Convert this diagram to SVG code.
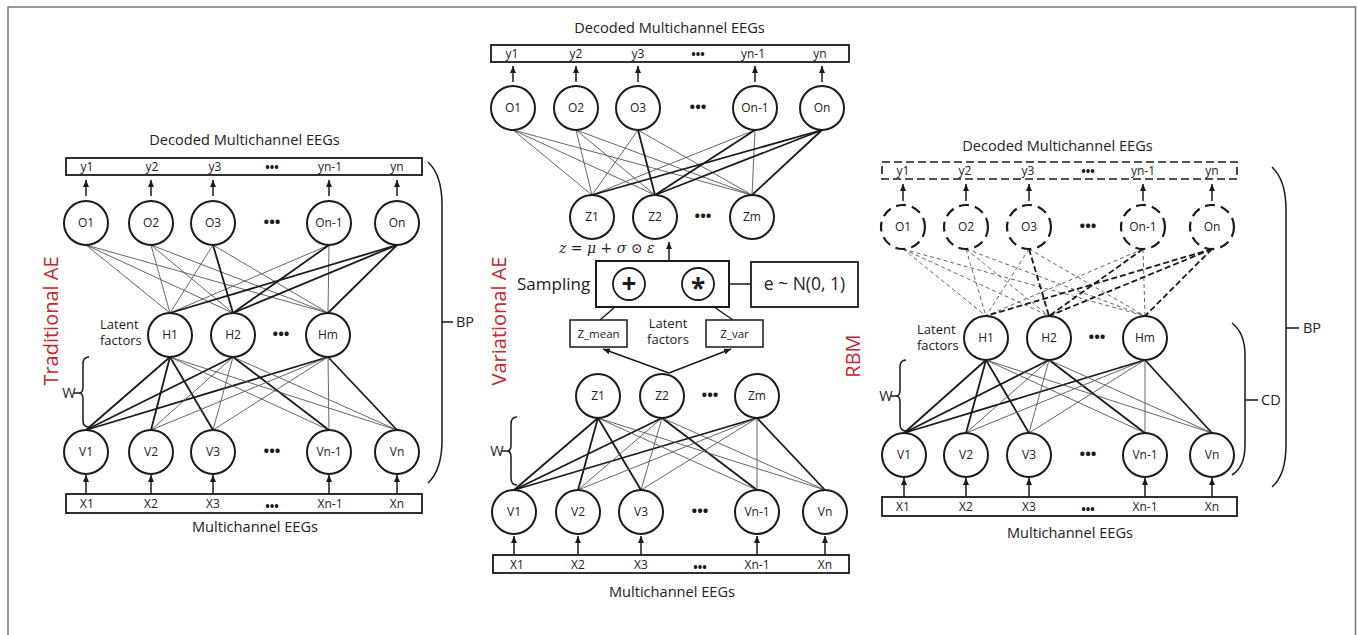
<svg xmlns="http://www.w3.org/2000/svg" width="1357" height="635" viewBox="0 0 1357 635">
<defs>
<marker id="ah" markerUnits="userSpaceOnUse" markerWidth="7" markerHeight="6" viewBox="0 0 7 6" refX="7" refY="3" orient="auto"><path d="M0,0 L7,3 L0,6 z" fill="#1a1a1a"/></marker>
<style>
text{font-family:"Open Sans","Noto Sans","Liberation Sans",sans-serif;fill:#222}
.node circle{fill:#fff;stroke:#1a1a1a;stroke-width:2}
.dnode circle{fill:#fff;stroke:#1a1a1a;stroke-width:2.2;stroke-dasharray:10 6}
.node text,.dnode text{font-size:12px;text-anchor:middle}
.box rect{fill:#fff;stroke:#1a1a1a;stroke-width:1.8}
.dbox rect{fill:#fff;stroke:#1a1a1a;stroke-width:1.6;stroke-dasharray:8 4}
.box text,.dbox text{font-size:12px;text-anchor:middle}
.dots{font-size:15px;font-weight:bold;text-anchor:middle;fill:#1a1a1a}
.title{font-size:14.6px;text-anchor:middle}
.red{font-size:20px;fill:#c4262e;text-anchor:middle}
.lat{font-size:13px}
.thin{stroke:#555;stroke-width:0.9}
.thick{stroke:#1a1a1a;stroke-width:1.8}
.dthin{stroke:#555;stroke-width:0.9;stroke-dasharray:4 3}
.dthick{stroke:#1a1a1a;stroke-width:1.8;stroke-dasharray:6 3}
.arr{stroke:#1a1a1a;stroke-width:1.5;fill:none;marker-end:url(#ah)}
.br{fill:none;stroke:#1a1a1a;stroke-width:1.5}
.side{font-size:14.5px}
</style>
</defs>
<rect width="1357" height="635" fill="#fff"/>
<path d="M8 640 V7 H1355.5 V640" fill="none" stroke="#777" stroke-width="1.5"/>

<g id="connectors">
<g class="thin">
<line x1="86" y1="245" x2="170" y2="313"/><line x1="86" y1="245" x2="233" y2="313"/><line x1="86" y1="245" x2="328" y2="313"/>
<line x1="151" y1="245" x2="170" y2="313"/><line x1="151" y1="245" x2="233" y2="313"/><line x1="151" y1="245" x2="328" y2="313"/>
<line x1="213" y1="245" x2="170" y2="313"/><line x1="213" y1="245" x2="328" y2="313"/>
<line x1="329" y1="245" x2="170" y2="313"/><line x1="329" y1="245" x2="328" y2="313"/>
</g>
<g class="thick">
<line x1="213" y1="245" x2="233" y2="313"/><line x1="329" y1="245" x2="233" y2="313"/>
<line x1="397" y1="245" x2="170" y2="313"/><line x1="397" y1="245" x2="233" y2="313"/><line x1="397" y1="245" x2="328" y2="313"/>
</g>
<g class="thick">
<line x1="170" y1="357" x2="86" y2="430"/><line x1="170" y1="357" x2="151" y2="430"/><line x1="170" y1="357" x2="213" y2="430"/>
<line x1="233" y1="357" x2="86" y2="430"/><line x1="233" y1="357" x2="329" y2="430"/>
<line x1="328" y1="357" x2="86" y2="430"/><line x1="328" y1="357" x2="397" y2="430"/>
</g>
<g class="thin">
<line x1="170" y1="357" x2="329" y2="430"/><line x1="170" y1="357" x2="397" y2="430"/>
<line x1="233" y1="357" x2="151" y2="430"/><line x1="233" y1="357" x2="213" y2="430"/><line x1="233" y1="357" x2="397" y2="430"/>
<line x1="328" y1="357" x2="151" y2="430"/><line x1="328" y1="357" x2="213" y2="430"/><line x1="328" y1="357" x2="329" y2="430"/>
</g>
<g class="thin">
<line x1="513" y1="130" x2="592" y2="195"/><line x1="513" y1="130" x2="655" y2="195"/><line x1="513" y1="130" x2="752" y2="195"/>
<line x1="576" y1="130" x2="592" y2="195"/><line x1="576" y1="130" x2="655" y2="195"/><line x1="576" y1="130" x2="752" y2="195"/>
<line x1="638" y1="130" x2="592" y2="195"/><line x1="638" y1="130" x2="752" y2="195"/>
<line x1="755" y1="130" x2="592" y2="195"/><line x1="755" y1="130" x2="752" y2="195"/>
</g>
<g class="thick">
<line x1="638" y1="130" x2="655" y2="195"/><line x1="755" y1="130" x2="655" y2="195"/>
<line x1="822" y1="130" x2="592" y2="195"/><line x1="822" y1="130" x2="655" y2="195"/><line x1="822" y1="130" x2="752" y2="195"/>
</g>
<g class="thick">
<line x1="598" y1="418" x2="514" y2="490"/><line x1="598" y1="418" x2="578" y2="490"/><line x1="598" y1="418" x2="641" y2="490"/>
<line x1="662" y1="418" x2="514" y2="490"/><line x1="662" y1="418" x2="757" y2="490"/>
<line x1="757" y1="418" x2="514" y2="490"/><line x1="757" y1="418" x2="825" y2="490"/>
</g>
<g class="thin">
<line x1="598" y1="418" x2="757" y2="490"/><line x1="598" y1="418" x2="825" y2="490"/>
<line x1="662" y1="418" x2="578" y2="490"/><line x1="662" y1="418" x2="641" y2="490"/><line x1="662" y1="418" x2="825" y2="490"/>
<line x1="757" y1="418" x2="578" y2="490"/><line x1="757" y1="418" x2="641" y2="490"/><line x1="757" y1="418" x2="757" y2="490"/>
</g>
<g class="dthin">
<line x1="903" y1="249" x2="986" y2="316"/><line x1="903" y1="249" x2="1049" y2="316"/><line x1="903" y1="249" x2="1145" y2="316"/>
<line x1="966" y1="249" x2="986" y2="316"/><line x1="966" y1="249" x2="1049" y2="316"/><line x1="966" y1="249" x2="1145" y2="316"/>
<line x1="1029" y1="249" x2="986" y2="316"/><line x1="1029" y1="249" x2="1145" y2="316"/>
<line x1="1143" y1="249" x2="986" y2="316"/><line x1="1143" y1="249" x2="1145" y2="316"/>
</g>
<g class="dthick">
<line x1="1029" y1="249" x2="1049" y2="316"/><line x1="1143" y1="249" x2="1049" y2="316"/>
<line x1="1212" y1="249" x2="986" y2="316"/><line x1="1212" y1="249" x2="1049" y2="316"/><line x1="1212" y1="249" x2="1145" y2="316"/>
</g>
<g class="thick">
<line x1="986" y1="360" x2="904" y2="433"/><line x1="986" y1="360" x2="966" y2="433"/><line x1="986" y1="360" x2="1029" y2="433"/>
<line x1="1049" y1="360" x2="904" y2="433"/><line x1="1049" y1="360" x2="1145" y2="433"/>
<line x1="1145" y1="360" x2="904" y2="433"/><line x1="1145" y1="360" x2="1212" y2="433"/>
</g>
<g class="thin">
<line x1="986" y1="360" x2="1145" y2="433"/><line x1="986" y1="360" x2="1212" y2="433"/>
<line x1="1049" y1="360" x2="966" y2="433"/><line x1="1049" y1="360" x2="1029" y2="433"/><line x1="1049" y1="360" x2="1212" y2="433"/>
<line x1="1145" y1="360" x2="966" y2="433"/><line x1="1145" y1="360" x2="1029" y2="433"/><line x1="1145" y1="360" x2="1145" y2="433"/>
</g>
<path class="arr" d="M86 196 V180"/><path class="arr" d="M151 196 V180"/><path class="arr" d="M213 196 V180"/><path class="arr" d="M329 196 V180"/><path class="arr" d="M397 196 V180"/>
<path class="arr" d="M86 494 V475"/><path class="arr" d="M151 494 V475"/><path class="arr" d="M213 494 V475"/><path class="arr" d="M329 494 V475"/><path class="arr" d="M397 494 V475"/>
<path class="arr" d="M513 82 V66"/><path class="arr" d="M576 82 V66"/><path class="arr" d="M638 82 V66"/><path class="arr" d="M755 82 V66"/><path class="arr" d="M822 82 V66"/>
<path class="arr" d="M514 555 V536"/><path class="arr" d="M578 555 V536"/><path class="arr" d="M641 555 V536"/><path class="arr" d="M757 555 V536"/><path class="arr" d="M825 555 V536"/>
<path class="arr" d="M669 261 V242"/>
<path class="arr" d="M682 284 H646"/>
<path class="arr" d="M751 284 H715"/>
<path class="arr" d="M600 320 L623 300"/>
<path class="arr" d="M733 320 L704 300"/>
<path class="arr" d="M669 373 L603 349"/>
<path class="arr" d="M669 373 L731 349"/>
<path class="arr" d="M903 201 V184"/><path class="arr" d="M966 201 V184"/><path class="arr" d="M1029 201 V184"/><path class="arr" d="M1143 201 V184"/><path class="arr" d="M1212 201 V184"/>
<path class="arr" d="M904 497 V478"/><path class="arr" d="M966 497 V478"/><path class="arr" d="M1029 497 V478"/><path class="arr" d="M1145 497 V478"/><path class="arr" d="M1212 497 V478"/>
</g>

<text class="title" x="244.5" y="145">Decoded Multichannel EEGs</text>
<g id="L-out" class="box"><rect x="66" y="158" width="356" height="17"/>
<text x="87" y="171">y1</text><text x="152" y="171">y2</text><text x="215" y="171">y3</text><text class="dots" x="272" y="172">•••</text><text x="330" y="171">yn-1</text><text x="397" y="171">yn</text></g>
<g id="L-O1" class="node"><circle cx="86" cy="223" r="22"/><text x="86" y="227">O1</text></g>
<g id="L-O2" class="node"><circle cx="151" cy="223" r="22"/><text x="151" y="227">O2</text></g>
<g id="L-O3" class="node"><circle cx="213" cy="223" r="22"/><text x="213" y="227">O3</text></g>
<text class="dots" x="272" y="227">•••</text>
<g id="L-On1" class="node"><circle cx="329" cy="223" r="22"/><text x="329" y="227">On-1</text></g>
<g id="L-On" class="node"><circle cx="397" cy="223" r="22"/><text x="397" y="227">On</text></g>
<text class="lat" x="100" y="329">Latent</text><text class="lat" x="100" y="345">factors</text>
<g id="L-H1" class="node"><circle cx="170" cy="335" r="22"/><text x="170" y="339">H1</text></g>
<g id="L-H2" class="node"><circle cx="233" cy="335" r="22"/><text x="233" y="339">H2</text></g>
<text class="dots" x="281" y="339">•••</text>
<g id="L-Hm" class="node"><circle cx="328" cy="335" r="22"/><text x="328" y="339">Hm</text></g>
<g id="L-V1" class="node"><circle cx="86" cy="452" r="22"/><text x="86" y="456">V1</text></g>
<g id="L-V2" class="node"><circle cx="151" cy="452" r="22"/><text x="151" y="456">V2</text></g>
<g id="L-V3" class="node"><circle cx="213" cy="452" r="22"/><text x="213" y="456">V3</text></g>
<text class="dots" x="272" y="456">•••</text>
<g id="L-Vn1" class="node"><circle cx="329" cy="452" r="22"/><text x="329" y="456">Vn-1</text></g>
<g id="L-Vn" class="node"><circle cx="397" cy="452" r="22"/><text x="397" y="456">Vn</text></g>
<g id="L-in" class="box"><rect x="66" y="494" width="356" height="19"/>
<text x="87" y="508">X1</text><text x="151" y="508">X2</text><text x="213" y="508">X3</text><text class="dots" x="272" y="511">•••</text><text x="330" y="508">Xn-1</text><text x="397" y="508">Xn</text></g>
<text class="title" x="255" y="532">Multichannel EEGs</text>
<text class="red" x="58" y="321" transform="rotate(-90 58 321)">Traditional AE</text>
<g id="L-W"><path class="br" d="M89 357 Q83 357 83 364 L83 387 Q83 393 79 393 Q83 393 83 399 L83 421 Q83 427 89 427 M74 393 H79"/><text class="side" x="69" y="398" text-anchor="middle">W</text></g>
<g id="L-BP"><path class="br" d="M428 162 Q442 175 442 205 L442 440 Q442 470 428 483 M442 322 H453"/><text class="side" x="456" y="327">BP</text></g>

<text class="title" x="669.5" y="33">Decoded Multichannel EEGs</text>
<g id="M-out" class="box"><rect x="491" y="45" width="358" height="17"/>
<text x="512" y="58">y1</text><text x="576" y="58">y2</text><text x="638" y="58">y3</text><text class="dots" x="698" y="59">•••</text><text x="753" y="58">yn-1</text><text x="820" y="58">yn</text></g>
<g id="M-O1" class="node"><circle cx="513" cy="108" r="22"/><text x="513" y="112">O1</text></g>
<g id="M-O2" class="node"><circle cx="576" cy="108" r="22"/><text x="576" y="112">O2</text></g>
<g id="M-O3" class="node"><circle cx="638" cy="108" r="22"/><text x="638" y="112">O3</text></g>
<text class="dots" x="698" y="112">•••</text>
<g id="M-On1" class="node"><circle cx="755" cy="108" r="22"/><text x="755" y="112">On-1</text></g>
<g id="M-On" class="node"><circle cx="822" cy="108" r="22"/><text x="822" y="112">On</text></g>
<g id="M-Zu1" class="node"><circle cx="592" cy="217" r="22"/><text x="592" y="221">Z1</text></g>
<g id="M-Zu2" class="node"><circle cx="655" cy="217" r="22"/><text x="655" y="221">Z2</text></g>
<text class="dots" x="703" y="221">•••</text>
<g id="M-Zum" class="node"><circle cx="752" cy="217" r="22"/><text x="752" y="221">Zm</text></g>
<text x="559" y="253" style="font-family:'DejaVu Serif','Liberation Serif',serif;font-style:italic;font-size:14px">z = μ + σ ⊙ ε</text>
<g id="M-sampling"><rect x="596" y="261" width="133" height="46" fill="#fff" stroke="#1a1a1a" stroke-width="2"/>
<circle cx="629" cy="284" r="16" fill="#fff" stroke="#1a1a1a" stroke-width="1.8"/><text x="629" y="293" text-anchor="middle" style="font-size:26px;font-weight:bold;fill:#1a1a1a">+</text>
<circle cx="698" cy="284" r="16" fill="#fff" stroke="#1a1a1a" stroke-width="1.8"/><text x="698" y="298" text-anchor="middle" style="font-size:26px;font-weight:bold;fill:#1a1a1a">*</text></g>
<text x="517" y="290" style="font-size:17px">Sampling</text>
<g id="M-eps"><rect x="751" y="262" width="107" height="45" fill="#fff" stroke="#1a1a1a" stroke-width="1.8"/><text x="804.5" y="290" text-anchor="middle" style="font-size:17.5px">e ~ N(0, 1)</text></g>
<g id="M-zmean" class="box"><rect x="570" y="320" width="57" height="27" style="stroke-width:1.5"/><text x="598.5" y="337.5" style="font-size:11.5px">Z_mean</text></g>
<g id="M-zvar" class="box"><rect x="706" y="320" width="57" height="27" style="stroke-width:1.5"/><text x="734.5" y="337.5" style="font-size:11.5px">Z_var</text></g>
<text class="lat" x="668" y="328" text-anchor="middle">Latent</text><text class="lat" x="668" y="344" text-anchor="middle">factors</text>
<g id="M-Zl1" class="node"><circle cx="598" cy="396" r="22"/><text x="598" y="400">Z1</text></g>
<g id="M-Zl2" class="node"><circle cx="662" cy="396" r="22"/><text x="662" y="400">Z2</text></g>
<text class="dots" x="710" y="400">•••</text>
<g id="M-Zlm" class="node"><circle cx="757" cy="396" r="22"/><text x="757" y="400">Zm</text></g>
<g id="M-V1" class="node"><circle cx="514" cy="512" r="22"/><text x="514" y="516">V1</text></g>
<g id="M-V2" class="node"><circle cx="578" cy="512" r="22"/><text x="578" y="516">V2</text></g>
<g id="M-V3" class="node"><circle cx="641" cy="512" r="22"/><text x="641" y="516">V3</text></g>
<text class="dots" x="700" y="516">•••</text>
<g id="M-Vn1" class="node"><circle cx="757" cy="512" r="22"/><text x="757" y="516">Vn-1</text></g>
<g id="M-Vn" class="node"><circle cx="825" cy="512" r="22"/><text x="825" y="516">Vn</text></g>
<g id="M-in" class="box"><rect x="493" y="555" width="356" height="18"/>
<text x="517" y="569">X1</text><text x="578" y="569">X2</text><text x="641" y="569">X3</text><text class="dots" x="700" y="572">•••</text><text x="757" y="569">Xn-1</text><text x="825" y="569">Xn</text></g>
<text class="title" x="672" y="597">Multichannel EEGs</text>
<text class="red" x="506" y="321" transform="rotate(-90 506 321)">Variational AE</text>
<g id="M-W"><path class="br" d="M517 417 Q511 417 511 424 L511 445 Q511 451 507 451 Q511 451 511 457 L511 478 Q511 485 517 485 M502 451 H507"/><text class="side" x="497" y="456" text-anchor="middle">W</text></g>
<text class="red" x="860" y="356" transform="rotate(-90 860 356)">RBM</text>

<text class="title" x="1057.5" y="151">Decoded Multichannel EEGs</text>
<g id="R-out" class="dbox"><rect x="882" y="162" width="355" height="17"/>
<text x="903" y="175">y1</text><text x="965" y="175">y2</text><text x="1028" y="175">y3</text><text class="dots" x="1088" y="176">•••</text><text x="1143" y="175">yn-1</text><text x="1212" y="175">yn</text></g>
<g id="R-O1" class="dnode"><circle cx="903" cy="227" r="22"/><text x="903" y="231">O1</text></g>
<g id="R-O2" class="dnode"><circle cx="966" cy="227" r="22"/><text x="966" y="231">O2</text></g>
<g id="R-O3" class="dnode"><circle cx="1029" cy="227" r="22"/><text x="1029" y="231">O3</text></g>
<text class="dots" x="1088" y="231">•••</text>
<g id="R-On1" class="dnode"><circle cx="1143" cy="227" r="22"/><text x="1143" y="231">On-1</text></g>
<g id="R-On" class="dnode"><circle cx="1212" cy="227" r="22"/><text x="1212" y="231">On</text></g>
<text class="lat" x="917" y="334">Latent</text><text class="lat" x="917" y="350">factors</text>
<g id="R-H1" class="node"><circle cx="986" cy="338" r="22"/><text x="986" y="342">H1</text></g>
<g id="R-H2" class="node"><circle cx="1049" cy="338" r="22"/><text x="1049" y="342">H2</text></g>
<text class="dots" x="1097" y="342">•••</text>
<g id="R-Hm" class="node"><circle cx="1145" cy="338" r="22"/><text x="1145" y="342">Hm</text></g>
<g id="R-V1" class="node"><circle cx="904" cy="455" r="22"/><text x="904" y="459">V1</text></g>
<g id="R-V2" class="node"><circle cx="966" cy="455" r="22"/><text x="966" y="459">V2</text></g>
<g id="R-V3" class="node"><circle cx="1029" cy="455" r="22"/><text x="1029" y="459">V3</text></g>
<text class="dots" x="1088" y="459">•••</text>
<g id="R-Vn1" class="node"><circle cx="1145" cy="455" r="22"/><text x="1145" y="459">Vn-1</text></g>
<g id="R-Vn" class="node"><circle cx="1212" cy="455" r="22"/><text x="1212" y="459">Vn</text></g>
<g id="R-in" class="box"><rect x="882" y="497" width="355" height="19"/>
<text x="903" y="511">X1</text><text x="966" y="511">X2</text><text x="1029" y="511">X3</text><text class="dots" x="1088" y="514">•••</text><text x="1145" y="511">Xn-1</text><text x="1212" y="511">Xn</text></g>
<text class="title" x="1070" y="538">Multichannel EEGs</text>
<g id="R-W"><path class="br" d="M906 360 Q900 360 900 367 L900 390 Q900 396 896 396 Q900 396 900 402 L900 424 Q900 431 906 431 M891 396 H896"/><text class="side" x="886" y="401" text-anchor="middle">W</text></g>
<g id="R-CD"><path class="br" d="M1232 323 Q1245 333 1245 355 L1245 445 Q1245 467 1232 475 M1245 400 H1258"/><text class="side" x="1261" y="405">CD</text></g>
<g id="R-BP"><path class="br" d="M1272 167 Q1286 180 1286 210 L1286 445 Q1286 475 1272 487 M1286 328 H1299"/><text class="side" x="1303" y="333">BP</text></g>
</svg>
